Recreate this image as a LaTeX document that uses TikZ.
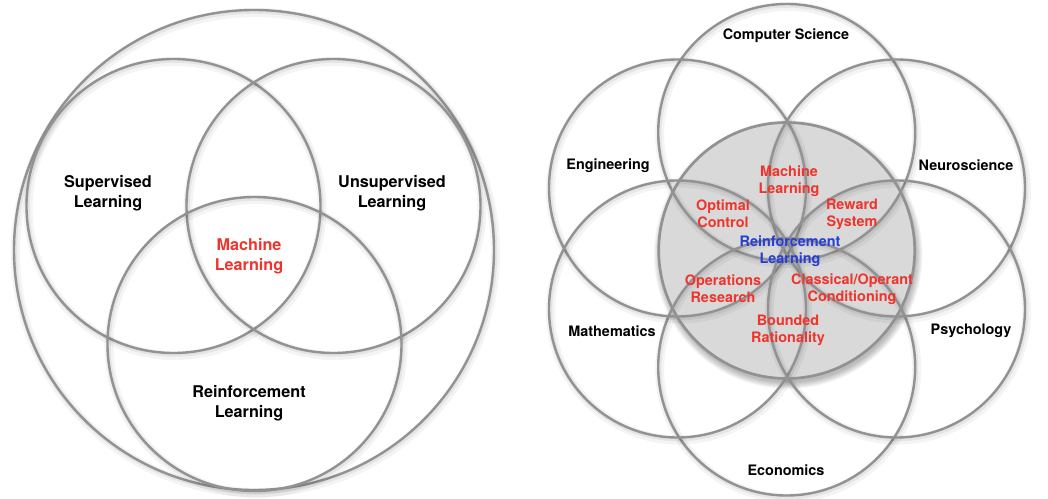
\documentclass[tikz,border=0pt]{standalone}
\usepackage{fontspec}
\setmainfont{TeX Gyre Heros}
\definecolor{ringgray}{RGB}{146,146,146}
\definecolor{fillgray}{RGB}{217,217,217}
\definecolor{mlred}{RGB}{238,52,44}
\definecolor{rlblue}{RGB}{40,60,215}
\newcommand\ringat[2]{%
  \draw[glowwide] ([shift={(1.5,2.5)}]#1) circle[radius=#2pt];
  \draw[glownarrow] ([shift={(1,1.5)}]#1) circle[radius=#2pt];
  \draw[ring] (#1) circle[radius=#2pt];}
\begin{document}
\begin{tikzpicture}[x=1pt,y=-1pt,
  ring/.style={draw=ringgray,line width=2.4pt},
  glowwide/.style={draw=black,opacity=0.045,line width=9pt},
  glownarrow/.style={draw=black,opacity=0.06,line width=4.5pt},
  biglabel/.style={font=\fontsize{16.2}{19.5}\selectfont\bfseries,align=center,inner sep=0pt},
  smalllabel/.style={font=\fontsize{14.4}{16.8}\selectfont\bfseries,align=center,inner sep=0pt},
  blacktext/.style={text=black},
  redtext/.style={text=mlred},
  bluetext/.style={text=rlblue}]
\useasboundingbox[fill=white] (0,0) rectangle (1048,498);

% ---------- left diagram ----------
\coordinate (outer) at (254,250);
\coordinate (sup) at (173.5,206);
\coordinate (unsup) at (333.5,206);
\coordinate (reinf) at (254.5,344);
\ringat{outer}{240}
\ringat{sup}{147}
\ringat{unsup}{147}
\ringat{reinf}{147}

\node[biglabel,blacktext] (supl) at (108,193) {Supervised\\Learning};
\node[biglabel,blacktext] (unsupl) at (392,193) {Unsupervised\\Learning};
\node[biglabel,redtext] (mll) at (249,256) {Machine\\Learning};
\node[biglabel,blacktext] (rll) at (249,403) {Reinforcement\\Learning};

% ---------- right diagram ----------
\coordinate (C) at (786.7,250.5);
\coordinate (cs) at (786.7,132.5);
\coordinate (eco) at (786.7,367);
\coordinate (eng) at (677.5,188);
\coordinate (neu) at (896.5,188);
\coordinate (mat) at (677.5,309);
\coordinate (psy) at (896.5,309);

% central disc shadow
\foreach \i in {0,...,7}{
  \fill[black,opacity=0.035] ([shift={(1.5,4)}]C) circle[radius={(128+\i*0.9)*1pt}];
}
\fill[fillgray] (C) circle[radius=128pt];

\ringat{cs}{128.5}
\ringat{eco}{128.5}
\ringat{eng}{128.5}
\ringat{neu}{128.5}
\ringat{mat}{128.5}
\ringat{psy}{128.5}
\draw[ring,line width=2.7pt] (C) circle[radius=128pt];

\node[smalllabel,blacktext] (csl) at (786,36) {Computer Science};
\node[smalllabel,blacktext] (engl) at (608,165.5) {Engineering};
\node[smalllabel,blacktext] (neul) at (966,165.5) {Neuroscience};
\node[smalllabel,blacktext] (matl) at (612,331) {Mathematics};
\node[smalllabel,blacktext] (psyl) at (971,331) {Psychology};
\node[smalllabel,blacktext] (ecol) at (786,470) {Economics};

\node[smalllabel,redtext] (ml2) at (789,181.5) {Machine\\Learning};
\node[smalllabel,redtext] (oc) at (723,214) {Optimal\\Control};
\node[smalllabel,redtext] (rs) at (852,214) {Reward\\System};
\node[smalllabel,bluetext] (rl2) at (790,251) {Reinforcement\\Learning};
\node[smalllabel,redtext] (or) at (723,289) {Operations\\Research};
\node[smalllabel,redtext] (coc) at (852,289) {Classical/Operant\\Conditioning};
\node[smalllabel,redtext] (br) at (788,330.5) {Bounded\\Rationality};
\end{tikzpicture}
\end{document}
